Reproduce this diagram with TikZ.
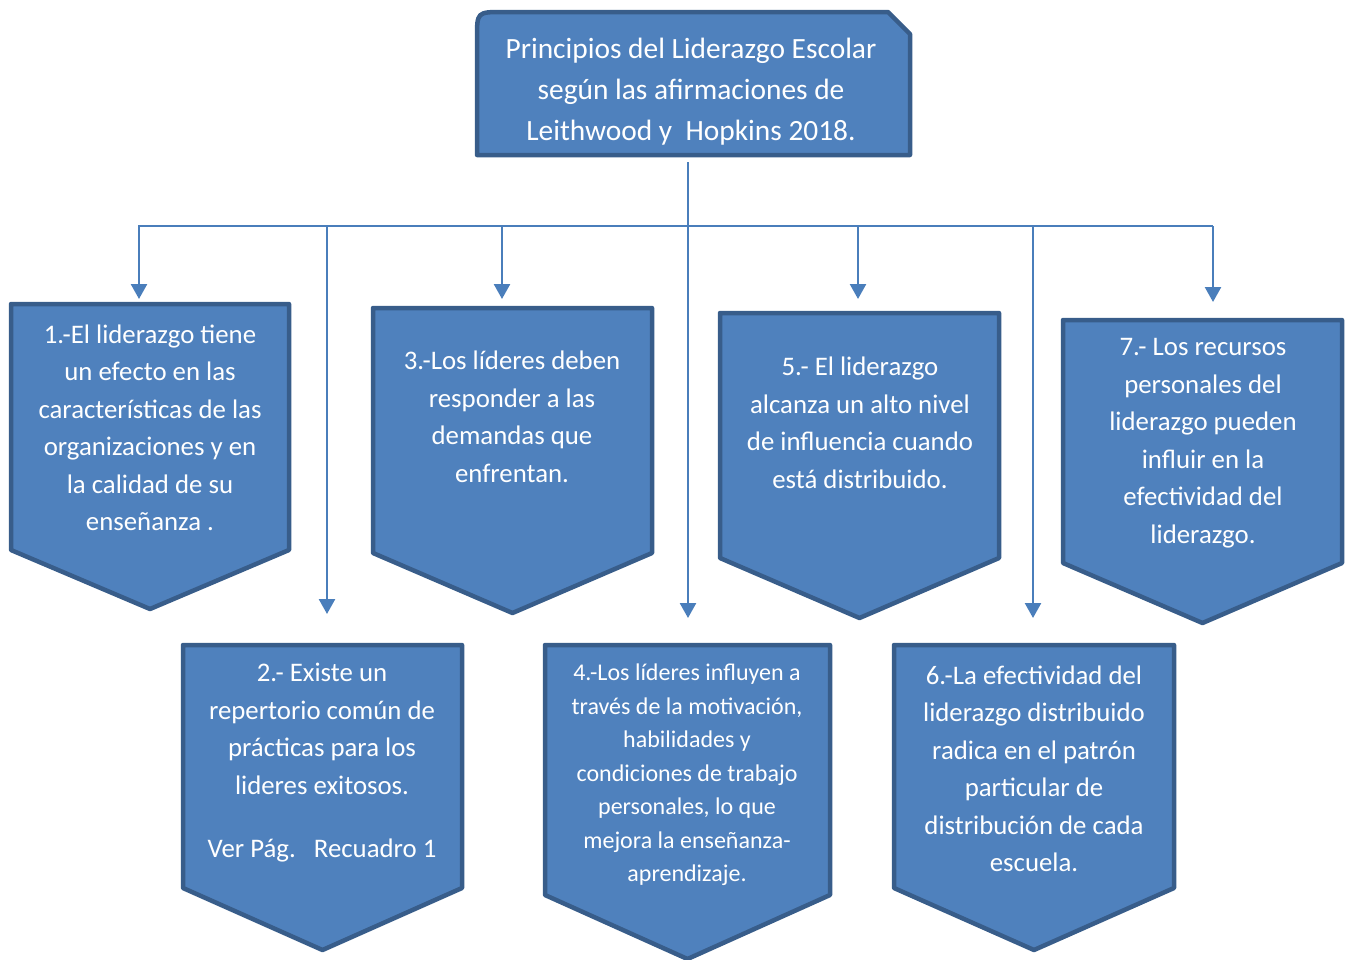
\documentclass[tikz,border=0pt]{standalone}
\usepackage{fontspec}
\setmainfont{Carlito}
\usetikzlibrary{arrows.meta}
\definecolor{boxfill}{HTML}{4F81BD}
\definecolor{boxline}{HTML}{385D8A}
\definecolor{linkblue}{HTML}{4A7EBB}
\begin{document}
\begin{tikzpicture}[x=1pt,y=-1pt,
  box/.style={draw=boxline,fill=boxfill,line width=4.5pt,line join=round},
  txt/.style={text=white,align=center,font=\fontsize{26.8}{37.5}\selectfont},
  link/.style={draw=linkblue,line width=2.5pt},
  arr/.style={link,-{Triangle[width=16pt,length=15pt]}}]
  \useasboundingbox (0,0) rectangle (1346,959);
  % shapes
  \draw[box] (477,155) -- (477,38) .. controls (477,12) .. (503,12) -- (888,12) -- (910,34) -- (910,155) -- cycle;
  \foreach \xa/\xb/\yt/\ys/\yp in {11/289/304/550/609, 183/462/645/888/950, 373/652/308/553/613,
      545/830/645/895/959, 720/999/313/558/618, 894/1174/645/888/950, 1063/1342/320/563/623}
    \draw[box] (\xa,\yt) -- (\xb,\yt) -- (\xb,\ys) -- ({(\xa+\xb)/2},\yp) -- (\xa,\ys) -- cycle;
  % texts
  \node[txt,font=\fontsize{29.4}{41}\selectfont] (title) at (691,92)
    {Principios del Liderazgo Escolar\\según las afirmaciones de\\Leithwood y~ Hopkins 2018.};
  \node[txt] (p1) at (150,428) {1.-El liderazgo tiene\\un efecto en las\\características de las\\organizaciones y en\\la calidad de su\\enseñanza .};
  \node[txt] (p2) at (322,763) {2.- Existe un\\repertorio común de\\prácticas para los\\lideres exitosos.\\[26pt]Ver Pág.\ \ \ Recuadro 1};
  \node[txt] (p3) at (512,417) {3.-Los líderes deben\\responder a las\\demandas que\\enfrentan.};
  \node[txt,font=\fontsize{24}{33.5}\selectfont] (p4) at (687,775) {4.-Los líderes influyen a\\través de la motivación,\\habilidades y\\condiciones de trabajo\\personales, lo que\\mejora la enseñanza-\\aprendizaje.};
  \node[txt] (p5) at (860,423) {5.- El liderazgo\\alcanza un alto nivel\\de influencia cuando\\está distribuido.};
  \node[txt] (p6) at (1034,769) {6.-La efectividad del\\liderazgo distribuido\\radica en el patrón\\particular de\\distribución de cada\\escuela.};
  \node[txt] (p7) at (1203,443) {7.- Los recursos\\personales del\\liderazgo pueden\\influir en la\\efectividad del\\liderazgo.};
  % connectors
  \coordinate (hub) at (688,162);
  \coordinate (busL) at (138,226);
  \coordinate (busR) at (1213,226);
  \coordinate (b1) at (139,299);
  \coordinate (b2) at (327,614);
  \coordinate (b3) at (502,299);
  \coordinate (b4) at (688,618);
  \coordinate (b5) at (858,299);
  \coordinate (b6) at (1033,618);
  \coordinate (b7) at (1213,302);
  \draw[link] (busL) -- (busR);
  \draw[arr] (hub) -- (b4);
  \foreach \b in {b1,b2,b3,b5,b6,b7}
    \draw[arr] (\b |- busL) -- (\b);
\end{tikzpicture}
\end{document}
